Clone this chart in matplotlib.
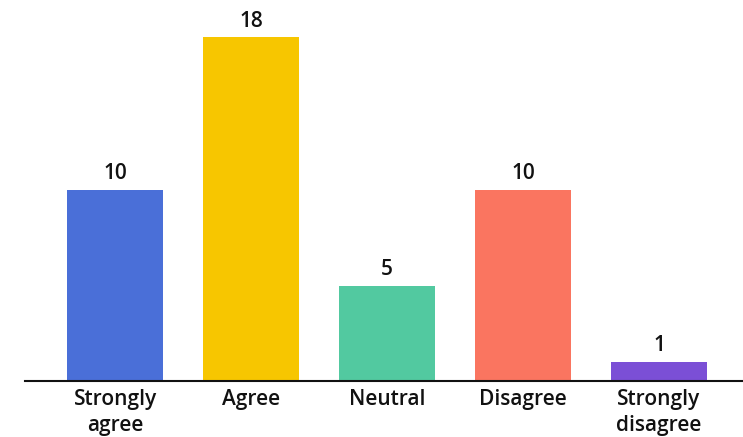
import numpy as np
import matplotlib.pyplot as plt

# Survey responses
categories = ["Strongly\nagree", "Agree", "Neutral", "Disagree", "Strongly\ndisagree"]
counts = [10, 18, 5, 10, 1]
colors = ["#4A6FD8", "#F7C600", "#52C9A0", "#FA7560", "#7B4FD6"]

plt.rcParams["font.family"] = ["Open Sans", "DejaVu Sans"]

fig = plt.figure(figsize=(7.43, 4.37), dpi=100)
ax = fig.add_axes([0.034, 0.128, 0.966, 0.872])

x = np.arange(len(categories))
bars = ax.bar(x, counts, width=0.706, color=colors)

for xi, c in zip(x, counts):
    ax.text(xi, c + 0.3, str(c), ha="center", va="bottom",
            fontsize=15, fontweight="semibold", color="#111111")

ax.set_xlim(-0.662, 4.618)
ax.set_ylim(0, 19.95)
ax.set_xticks(x)
ax.set_xticklabels(categories, fontsize=15, fontweight="semibold",
                   color="#111111", linespacing=1.3)
ax.tick_params(axis="x", length=0, pad=6)
ax.set_yticks([])

for s in ["top", "right", "left"]:
    ax.spines[s].set_visible(False)
ax.spines["bottom"].set_linewidth(1.5)
ax.spines["bottom"].set_color("#111111")

fig.savefig("out.png", dpi=100)
